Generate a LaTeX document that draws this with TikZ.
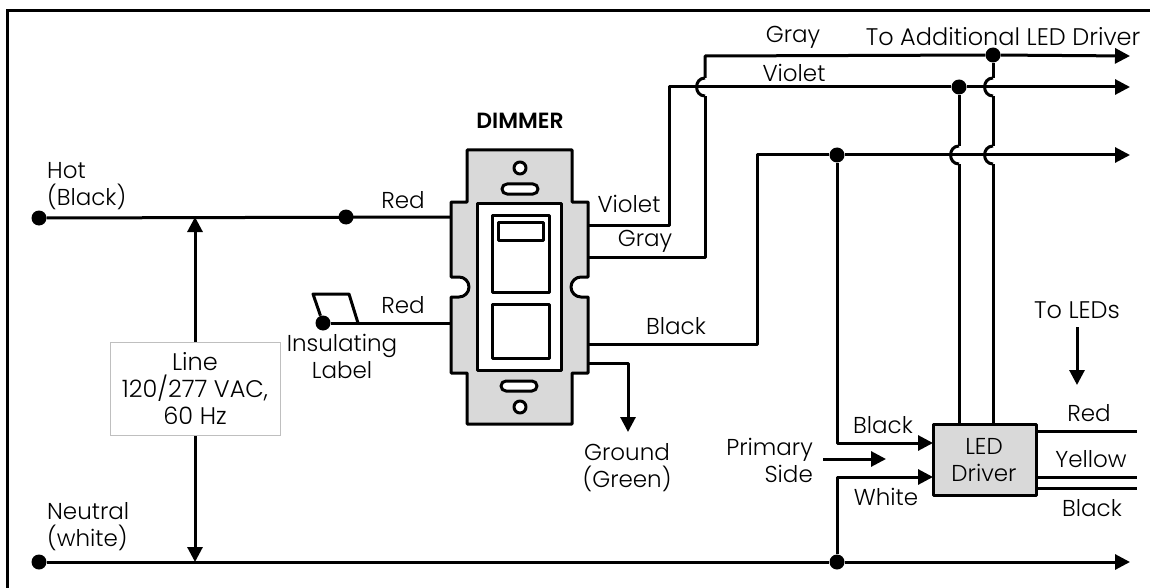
\documentclass[tikz,border=0pt]{standalone}
\usepackage{fontspec}
\setmainfont{Poppins}[UprightFont={* Light},BoldFont={* SemiBold}]
\usetikzlibrary{arrows.meta}
\tikzset{
  wire/.style={line width=3pt,line join=round},
  feed/.style={wire,-{Triangle[length=15pt,width=15pt]}},
  dot/.style={circle,fill=black,inner sep=0pt,minimum size=15pt},
  tag/.style={inner sep=0pt,align=center,font=\fontsize{23}{27}\selectfont},
  widetag/.style={tag,font=\fontsize{24}{27}\selectfont},
  hop/.style={out=180,in=180,looseness=1.6},
  plate/.style={line width=3pt,line join=round},
}
\definecolor{panel}{gray}{0.85}
\begin{document}
\begin{tikzpicture}[x=1pt,y=-1pt]
      \useasboundingbox (0,0) rectangle (1150,588);
      \draw[line width=3pt] (7,588) -- (7,11) -- (1150,11);
      \draw
        (39,218) node[dot] (hot){}
        (346,217) node[dot] (hotred){}
        (39,562) node[dot] (neutral){}
        (837,562) node[dot] (neutraltap){}
        (323,323) node[dot] (capped){}
        (837,155) node[dot] (blacktap){}
        (959,87) node[dot] (violettap){}
        (993,55) node[dot] (graytap){};
      \coordinate (hotin) at (451,217);
      \coordinate (redin) at (451,323);
      \coordinate (violetout) at (588,225);
      \coordinate (violetup) at (669,87);
      \coordinate (violetend) at (1130,87);
      \coordinate (grayout) at (588,257);
      \coordinate (graylow) at (705,96);
      \coordinate (grayhigh) at (705,78);
      \coordinate (graytop) at (705,56);
      \coordinate (grayend) at (1130,56);
      \coordinate (blackout) at (588,344);
      \coordinate (blackup) at (757,155);
      \coordinate (blackend) at (1130,155);
      \coordinate (groundout) at (588,363);
      \coordinate (groundend) at (628,432);
      \coordinate (neutralend) at (1130,562);
      \coordinate (lineup) at (195,217);
      \coordinate (linedown) at (195,562);
      \coordinate (primarya) at (823,459);
      \coordinate (primaryb) at (886,459);
      \coordinate (ledsa) at (1077,327);
      \coordinate (ledsb) at (1077,385);
      \coordinate (redend) at (1137,431);
      \coordinate (yellowend) at (1137,477);
      \coordinate (blackoutend) at (1137,488);
      \coordinate (va) at (959,146);
      \coordinate (vb) at (959,164);
      \coordinate (ga) at (993,78);
      \coordinate (gb) at (993,96);
      \coordinate (gc) at (993,146);
      \coordinate (gd) at (993,164);
      \coordinate (driverblack) at (933,443);
      \coordinate (driverwhite) at (933,477);
      \coordinate (driverred) at (1036,431);
      \coordinate (driveryellow) at (1036,477);
      \coordinate (driverlow) at (1036,488);
      \coordinate (drivertopv) at (959,424);
      \coordinate (drivertopg) at (993,424);
      \draw[plate,fill=panel]
        (467,150) -- (572,150) -- (572,202) -- (588,202) -- (588,277) -- (581,277)
        arc[start angle=90,end angle=270,radius=10pt] -- (588,297) -- (588,373)
        -- (572,373) -- (572,424) -- (467,424) -- (467,373) -- (451,373) -- (451,297) -- (459,297)
        arc[start angle=270,end angle=450,radius=10pt] -- (451,277) -- (451,202) -- (467,202) -- cycle;
      \draw[plate,fill=white] (477,203) rectangle (561,370);
      \draw[plate] (492,215) rectangle (549,292);
      \draw[plate] (498,222) rectangle (543,240);
      \draw[plate] (492,304) rectangle (549,358);
      \draw[plate,fill=white] (520,168) circle (6pt);
      \draw[plate,fill=white] (520,407) circle (6pt);
      \draw[plate,fill=white,rounded corners=5pt] (502,184) rectangle (538,194);
      \draw[plate,fill=white,rounded corners=5pt] (501,381) rectangle (537,391);
      \draw[plate,fill=panel] (933,424) rectangle (1036,495);
      \begin{scope}[wire]
        \draw (hot) to (hotin);
        \draw (capped) to (redin);
        \draw (violetout) -| (violetup) to (violettap);
        \draw (violettap) to (va);
        \draw (va) to[hop] (vb);
        \draw (vb) to (drivertopv);
        \draw (grayout) -| (graylow);
        \draw (graylow) to[hop] (grayhigh);
        \draw (grayhigh) to (graytop) to (graytap);
        \draw (graytap) to (ga);
        \draw (ga) to[hop] (gb);
        \draw (gb) to (gc);
        \draw (gc) to[hop] (gd);
        \draw (gd) to (drivertopg);
        \draw (blackout) -| (blackup) to (blacktap);
        \draw (neutral) to (neutraltap);
        \draw (driverred) to (redend);
        \draw (driveryellow) to (yellowend);
        \draw (driverlow) to (blackoutend);
        \draw (capped) -- (313,294) -- (349,294) -- (358,323);
      \end{scope}
      \begin{scope}[feed]
        \draw (violettap) to (violetend);
        \draw (graytap) to (grayend);
        \draw (blacktap) to (blackend);
        \draw (neutraltap) to (neutralend);
        \draw (groundout) -| (groundend);
        \draw (blacktap) |- (driverblack);
        \draw (neutraltap) |- (driverwhite);
        \draw (primarya) to (primaryb);
        \draw (ledsa) to (ledsb);
        \draw[{Triangle[length=15pt,width=15pt]}-{Triangle[length=15pt,width=15pt]}] (lineup) to (linedown);
      \end{scope}
      \draw (195,389) node[widetag,draw=black!25,line width=1pt,fill=white,minimum width=170pt,minimum height=93pt] (line){Line\\120/277 VAC,\\60 Hz};
      \draw
        (47,186) node[tag,align=left,anchor=west] (hotlabel){Hot\\(Black)}
        (47,527) node[tag,align=left,anchor=west] (neutrallabel){Neutral\\(white)}
        (403,200) node[tag] (redtop){Red}
        (403,305) node[tag] (redlow){Red}
        (342,356) node[tag] (insulating){Insulating\\Label}
        (520,121) node[tag,font=\fontsize{22}{27}\selectfont\bfseries] (dimmer){DIMMER}
        (629,204) node[tag] (violetlow){Violet}
        (645,241) node[tag] (graylabel){Gray}
        (676,326) node[tag] (blacklabel){Black}
        (627,468) node[tag] (ground){Ground\\(Green)}
        (793,37) node[tag] (graytext){Gray}
        (794,73) node[tag] (violethigh){Violet}
        (1003,37) node[widetag] (additional){To Additional LED Driver}
        (1077,310) node[widetag] (toleds){To LEDs}
        (813,460) node[tag,align=right,anchor=east] (primary){Primary\\Side}
        (883,425) node[tag] (blackin){Black}
        (886,497) node[tag] (whitein){White}
        (984,460) node[tag] (driver){LED\\Driver}
        (1089,413) node[tag] (redled){Red}
        (1091,459) node[tag] (yellowled){Yellow}
        (1092,508) node[tag] (blackled){Black};
    \end{tikzpicture}
\end{document}
